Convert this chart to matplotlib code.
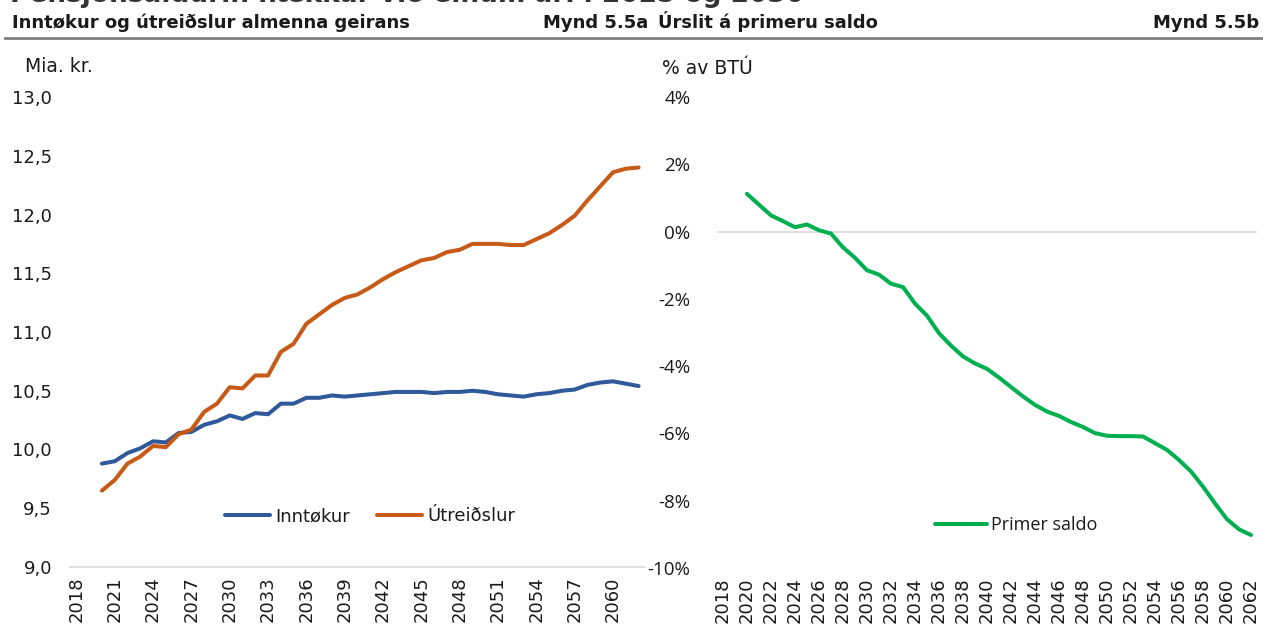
import numpy as np
import matplotlib.pyplot as plt

# ---- data ----
years = list(range(2018, 2063))

inntokur_years = list(range(2020, 2063))
inntokur = [9.88, 9.90, 9.97, 10.01, 10.07, 10.06, 10.14, 10.15, 10.21, 10.24,
            10.29, 10.26, 10.31, 10.30, 10.39, 10.39, 10.44, 10.44, 10.46, 10.45,
            10.46, 10.47, 10.48, 10.49, 10.49, 10.49, 10.48, 10.49, 10.49, 10.50,
            10.49, 10.47, 10.46, 10.45, 10.47, 10.48, 10.50, 10.51, 10.55, 10.57,
            10.58, 10.56, 10.54]
utreidslur = [9.65, 9.74, 9.88, 9.94, 10.03, 10.02, 10.13, 10.17, 10.32, 10.39,
              10.53, 10.52, 10.63, 10.63, 10.83, 10.90, 11.07, 11.15, 11.23, 11.29,
              11.32, 11.38, 11.45, 11.51, 11.56, 11.61, 11.63, 11.68, 11.70, 11.75,
              11.75, 11.75, 11.74, 11.74, 11.79, 11.84, 11.91, 11.99, 12.12, 12.24,
              12.36, 12.39, 12.40]

saldo_years = list(range(2020, 2063))
primer_saldo = [1.12, 0.80, 0.48, 0.31, 0.13, 0.21, 0.04, -0.06, -0.47, -0.78,
                -1.15, -1.28, -1.55, -1.65, -2.14, -2.50, -3.02, -3.39, -3.71, -3.92,
                -4.08, -4.34, -4.62, -4.90, -5.15, -5.35, -5.48, -5.66, -5.81, -5.99,
                -6.07, -6.08, -6.08, -6.09, -6.29, -6.49, -6.79, -7.13, -7.58, -8.08,
                -8.55, -8.85, -9.02]

left_ticks = [9.0, 9.5, 10.0, 10.5, 11.0, 11.5, 12.0, 12.5, 13.0]
right_ticks = [-10, -8, -6, -4, -2, 0, 2, 4]

BLUE = "#30599B"
ORANGE = "#C65A16"
GREEN = "#00B050"
GRID = "#D9D9D9"
TXT = "#1a1a1a"

plt.rcParams.update({
    "font.family": "DejaVu Sans",
    "text.color": TXT,
    "xtick.color": TXT,
    "ytick.color": TXT,
})

W, H = 1263, 632
fig = plt.figure(figsize=(W / 100, H / 100), dpi=100)


def pos(x0, x1, ytop, ybot):
    return [x0 / W, 1 - ybot / H, (x1 - x0) / W, (ybot - ytop) / H]


def idx(yrs):
    return [y - years[0] for y in yrs]


# ---- left panel: revenue and expenditure ----
ax1 = fig.add_axes(pos(70, 645, 97, 567))
ax1.plot(idx(inntokur_years), inntokur, color=BLUE, lw=2.9, label="Inntøkur",
         solid_capstyle="round")
ax1.plot(idx(inntokur_years), utreidslur, color=ORANGE, lw=2.9, label="Útreiðslur",
         solid_capstyle="round")
ax1.set_xlim(-0.5, len(years) - 0.5)
ax1.set_ylim(9.0, 13.0)
ax1.set_yticks(left_ticks)
ax1.set_yticklabels([f"{v:.1f}".replace(".", ",") for v in left_ticks])
ax1.set_xticks(idx(years[::3]))
ax1.set_xticklabels([str(y) for y in years[::3]], rotation=90)
for s in ["top", "right", "left"]:
    ax1.spines[s].set_visible(False)
ax1.spines["bottom"].set_color(GRID)
ax1.spines["bottom"].set_linewidth(1.2)
ax1.tick_params(axis="both", length=0, labelsize=13)
ax1.tick_params(axis="y", pad=13)
ax1.tick_params(axis="x", pad=7)
ax1.legend(loc="center", bbox_to_anchor=(0.522, 0.108), ncol=2, frameon=False,
           fontsize=13, handlelength=2.5, handletextpad=0.3, columnspacing=1.5)

# ---- right panel: primary balance ----
ax2 = fig.add_axes(pos(717, 1257, 97, 568))
ax2.axhline(0, color=GRID, lw=1.2, zorder=1)
ax2.plot(idx(saldo_years), primer_saldo, color=GREEN, lw=2.9, label="Primer saldo",
         solid_capstyle="round", zorder=3)
ax2.set_xlim(-0.5, len(years) - 0.5)
ax2.set_ylim(-10, 4)
ax2.set_yticks(right_ticks)
ax2.set_yticklabels([f"{v}%" for v in right_ticks], family="Open Sans")
ax2.set_xticks(idx(years[::2]))
ax2.set_xticklabels([str(y) for y in years[::2]], rotation=90)
for s in ax2.spines.values():
    s.set_visible(False)
ax2.tick_params(axis="both", length=0, labelsize=13)
ax2.tick_params(axis="y", pad=19, labelsize=13.5)
ax2.tick_params(axis="x", pad=7)
ax2.legend(loc="center", bbox_to_anchor=(0.554, 0.091), frameon=False,
           prop={"family": "Open Sans", "size": 13}, handlelength=2.9,
           handletextpad=0.2)

# ---- headers ----
fig.text(10 / W, 1.0 - 2 / H, "Pensjónsaldurin hækkar við einum ári í 2025 og 2030",
         fontsize=19, fontweight="bold", va="baseline", ha="left", color="#333333")
hy = 1 - 28 / H
fig.text(12 / W, hy, "Inntøkur og útreiðslur almenna geirans", fontsize=13,
         fontweight="bold", va="baseline", ha="left")
fig.text(648 / W, hy, "Mynd 5.5a", fontsize=13, fontweight="bold", va="baseline",
         ha="right")
fig.text(658 / W, hy, "Úrslit á primeru saldo", fontsize=13, fontweight="bold",
         va="baseline", ha="left")
fig.text(1259 / W, hy, "Mynd 5.5b", fontsize=13, fontweight="bold", va="baseline",
         ha="right")
fig.add_artist(plt.Line2D([5 / W, 1262 / W], [1 - 38 / H, 1 - 38 / H],
                          color="#7f7f7f", lw=2.0))

fig.text(25 / W, 1 - 66 / H, "Mia. kr.", fontsize=13.5, va="center", ha="left")
fig.text(662 / W, 1 - 69 / H, "% av BTÚ", fontsize=13.5, va="center", ha="left")

fig.savefig("out.png", dpi=100)
